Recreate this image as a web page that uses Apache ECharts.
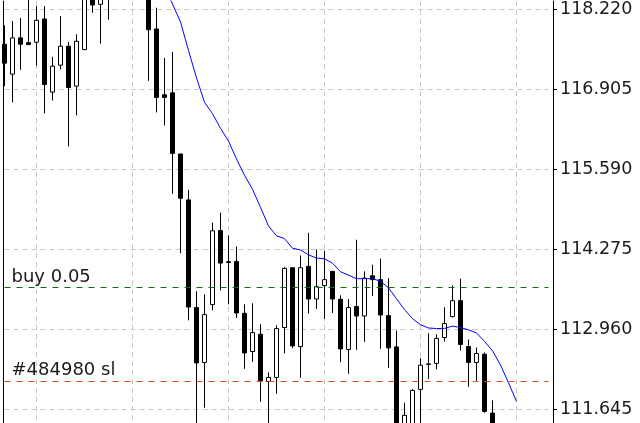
<!DOCTYPE html>
<html>
<head>
<meta charset="utf-8">
<script src="https://cdn.jsdelivr.net/npm/echarts@6/dist/echarts.min.js"></script>
<style>
html,body{margin:0;padding:0;background:#fff;}
#c{width:640px;height:423px;}
</style>
</head>
<body>
<div id="c"></div>
<script>
// ---- data ----
// candle index positions (category axis); slots beyond the last candle stay empty
const categories = Array.from({length: 69}, (_, i) => String(i));
// [open, close, low, high]
const opens  = [117.641,117.149,117.745,117.667,117.674,118.056,116.854,117.297,117.608,116.953,117.553,118.450,118.297,118.420,118.600,118.800,118.700,118.900,118.750,117.892,116.810,116.843,115.837,115.083,113.313,112.411,113.362,114.580,114.067,114.072,113.219,112.591,112.875,112.099,112.165,112.985,113.968,112.672,113.990,113.454,113.673,113.908,113.449,112.624,113.329,113.175,113.837,113.772,113.181,112.667,111.400,111.350,111.968,112.376,112.395,112.821,113.165,113.427,112.673,112.411,112.547,111.580];
const closes = [117.330,117.745,117.641,117.635,118.035,116.979,117.280,117.608,116.930,117.690,118.450,118.286,118.450,118.600,118.800,118.700,118.900,118.750,117.880,116.766,116.766,115.847,115.110,113.322,112.404,113.198,114.575,114.044,114.055,113.224,112.568,112.902,112.109,112.165,112.968,113.957,112.683,113.968,113.454,113.657,113.772,113.454,112.634,113.313,113.175,113.798,113.772,113.191,112.650,111.300,111.542,111.952,112.367,112.387,112.805,113.050,113.427,112.706,112.411,112.558,111.607,111.300];
const lows   = [116.950,116.684,117.220,117.630,117.290,116.503,116.716,117.225,115.962,116.470,117.543,118.159,117.651,118.045,118.450,118.550,118.600,118.550,117.039,116.520,116.307,115.182,114.207,113.103,111.350,111.667,113.268,113.596,113.367,113.141,112.306,112.421,111.765,111.350,111.896,112.558,112.645,112.158,113.214,113.290,113.126,113.224,112.416,112.224,112.618,112.749,113.503,112.634,112.322,111.300,111.300,111.300,111.380,112.141,112.296,112.755,113.149,112.607,112.011,112.109,111.584,111.300];
const highs  = [117.950,118.023,118.072,118.400,118.269,118.269,117.433,118.105,117.679,117.805,118.550,118.550,118.550,118.750,118.950,118.950,119.000,119.050,118.850,118.241,117.417,117.515,115.840,115.247,113.580,113.531,114.711,114.875,114.498,114.318,113.367,113.383,113.039,112.247,113.022,113.978,113.970,114.170,114.542,114.268,114.247,113.910,113.514,113.454,114.428,113.908,114.018,114.116,113.798,112.935,111.749,111.973,112.482,112.890,112.874,113.318,113.678,113.788,112.788,112.657,112.575,111.788];
// moving average (shifted forward), first value at index 20
const maStart = 20;
const maValues = [118.570,118.302,118.007,117.538,117.089,116.687,116.500,116.259,116.048,115.754,115.488,115.257,114.960,114.654,114.493,114.446,114.288,114.260,114.180,114.127,114.115,114.042,113.901,113.847,113.788,113.788,113.788,113.747,113.637,113.457,113.280,113.131,113.031,112.978,112.968,112.970,113.009,112.985,112.947,112.896,112.758,112.603,112.368,112.078,111.770];
// price axis
const yTicks = [111.645,112.960,114.275,115.590,116.905,118.220];
const yMin = 111.416, yMax = 118.351;
// order levels
const buyLevel = 113.650, buyText = 'buy 0.05';
const slLevel = 112.109, slText = '#484980 sl';

// ---- build ----
const candleData = opens.map((o, i) => [o, closes[i], lows[i], highs[i]]);
const maData = categories.map((_, i) => {
  const k = i - maStart;
  return (k >= 0 && k < maValues.length) ? maValues[k] : null;
});
const FONT = 'DejaVu Sans';
const chart = echarts.init(document.getElementById('c'), null, {renderer: 'canvas'});
chart.setOption({
  animation: false,
  backgroundColor: '#ffffff',
  grid: {left: 4.5, right: 91.5, top: 0, bottom: 0, containLabel: false},
  xAxis: {
    type: 'category', data: categories, boundaryGap: false,
    axisLine: {show: false}, axisTick: {show: false}, axisLabel: {show: false},
    splitLine: {show: true, interval: (idx) => idx % 12 === 4,
      lineStyle: {color: '#c8c8c8', type: [5, 4], width: 1}}
  },
  yAxis: [{
    type: 'value', position: 'right', min: yMin, max: yMax, offset: 4.5,
    axisLine: {show: true, lineStyle: {color: '#000', width: 1}},
    axisTick: {show: true, length: 4, lineStyle: {color: '#000'}, customValues: yTicks},
    axisLabel: {show: true, customValues: yTicks, margin: 7, color: '#1a1a1a',
      fontFamily: FONT, fontSize: 17.5, formatter: v => Number(v).toFixed(3)},
    splitLine: {show: true, lineStyle: {color: '#c8c8c8', type: [5, 4], width: 1}}
  }, {
    type: 'value', position: 'left', min: yMin, max: yMax, offset: 1.5,
    axisLine: {show: true, lineStyle: {color: '#000', width: 1}},
    axisTick: {show: false}, axisLabel: {show: false}, splitLine: {show: false}
  }],
  series: [{
    type: 'candlestick', data: candleData, yAxisIndex: 0, barWidth: 4, clip: false,
    itemStyle: {color: '#ffffff', color0: '#000000', borderColor: '#000000',
      borderColor0: '#000000', borderColorDoji: '#000000', borderWidth: 1},
    markLine: {
      symbol: 'none', silent: true, animation: false,
      lineStyle: {type: [6, 6], width: 1},
      label: {position: 'insideStartTop', distance: [7, 1], color: '#1a1a1a',
        fontFamily: FONT, fontSize: 18},
      data: [
        {yAxis: buyLevel, lineStyle: {color: '#0a6e0a'}, label: {formatter: buyText}},
        {yAxis: slLevel, lineStyle: {color: '#e04b1c'}, label: {formatter: slText}}
      ]
    }
  }, {
    type: 'line', data: maData, yAxisIndex: 0, showSymbol: false, symbol: 'none',
    lineStyle: {color: '#0000ff', width: 1}, connectNulls: false
  }]
});
</script>
</body>
</html>
